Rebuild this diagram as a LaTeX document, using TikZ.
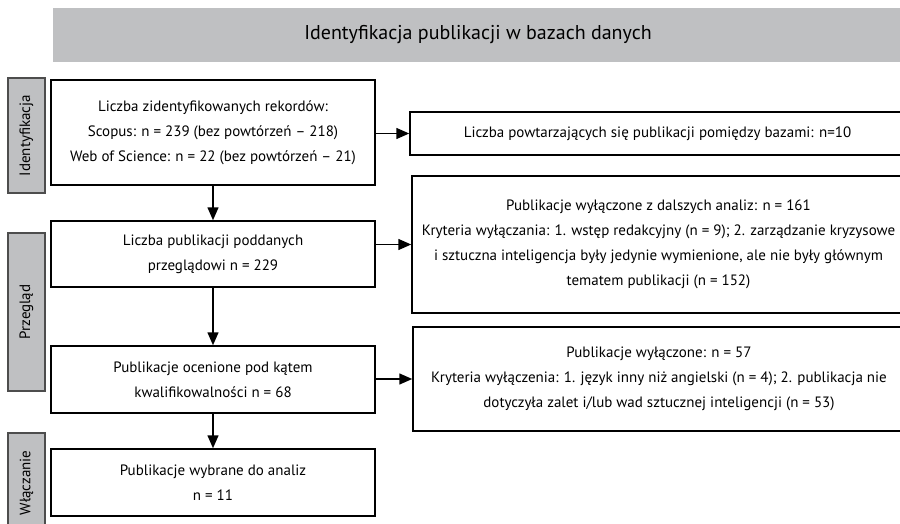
\documentclass[tikz,border=0pt]{standalone}
\usepackage{fontspec}
\setmainfont{PT Sans}
\usetikzlibrary{
  arrows.meta,
  positioning
}
\definecolor{bargray}{RGB}{191,192,194}
\definecolor{edgegray}{RGB}{77,77,77}
\tikzset{
  >={Triangle[length=13pt,width=11pt]},
  every node/.style = {font=\fontsize{15}{25}\selectfont, align=center},
  box/.style = {draw, line width=1.5pt, inner sep=0pt},
  stage/.style = {fill=bargray, draw=edgegray, line width=1.5pt,
    rotate=90, minimum height=37pt, inner sep=0pt},
  flow/.style = {->, line width=1.5pt},
}

\begin{document}
\begin{tikzpicture}[x=1pt, y=-1pt]
  \useasboundingbox (0,0) rectangle (900,524);
  \node[fill=bargray, minimum width=850pt, minimum height=54pt,
    font=\fontsize{20}{24}\selectfont] (title) at (478,35)
    {Identyfikacja publikacji w bazach danych};
  % etapy
  \node[stage, minimum width=115pt] (idf) at (26.5,135.5) {Identyfikacja};
  \node[stage, minimum width=158pt] (prz) at (26.5,312) {Przegląd};
  \node[stage, minimum width=100pt] (wlc) at (26.5,483) {Włączanie};
  % lewa kolumna
  \node[box, minimum width=324pt, minimum height=105pt] (rek) at (213,132.5)
    {Liczba zidentyfikowanych rekordów:\\
     Scopus: n = 239 (bez powtórzeń – 218)\\
     Web of Science: n = 22 (bez powtórzeń – 21)};
  \node[box, minimum width=324pt, minimum height=66pt] (prg) at (213,254)
    {Liczba publikacji poddanych\\ przeglądowi n = 229};
  \node[box, minimum width=324pt, minimum height=67pt] (ocn) at (213,379.5)
    {Publikacje ocenione pod kątem\\ kwalifikowalności n = 68};
  \node[box, minimum width=324pt, minimum height=67pt] (wyb) at (213,482.5)
    {Publikacje wybrane do analiz\\ n = 11};
  % prawa kolumna
  \node[box, minimum width=495pt, minimum height=43pt] (dup) at (657.5,133.5)
    {Liczba powtarzających się publikacji pomiędzy bazami: n=10};
  \node[box, minimum width=493pt, minimum height=137pt] (wy1) at (658.5,244.5)
    {Publikacje wyłączone z dalszych analiz: n = 161\\
     Kryteria wyłączania: 1. wstęp redakcyjny (n = 9); 2. zarządzanie kryzysowe\\
     i sztuczna inteligencja były jedynie wymienione, ale nie były głównym\\
     tematem publikacji (n = 152)};
  \node[box, minimum width=492pt, minimum height=104pt] (wy2) at (659,379)
    {Publikacje wyłączone: n = 57\\
     Kryteria wyłączenia: 1. język inny niż angielski (n = 4); 2. publikacja nie\\
     dotyczyła zalet i/lub wad sztucznej inteligencji (n = 53)};
  \path
      (rek) edge[flow] (prg)
      (prg) edge[flow] (ocn)
      (ocn) edge[flow] (wyb)
      (rek.east |- dup.west) edge[flow] (dup.west)
      (prg.east |- wy1.west) edge[flow] (wy1.west)
      (ocn.east |- wy2.west) edge[flow] (wy2.west);
\end{tikzpicture}
\end{document}
